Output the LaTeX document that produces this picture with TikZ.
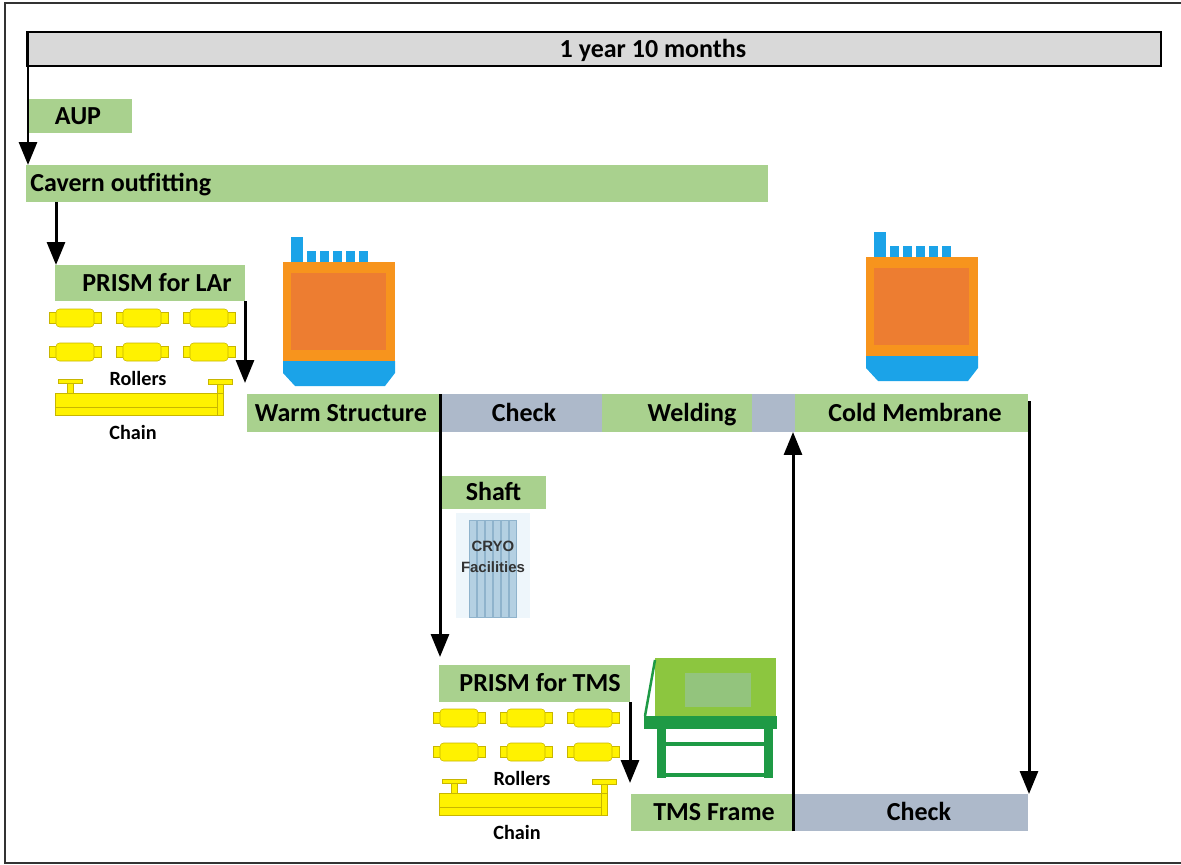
\documentclass[tikz,border=0pt]{standalone}
\usepackage{fontspec}
\setmainfont{Carlito}
\newfontfamily\cryofont{Liberation Sans}
\usetikzlibrary{arrows.meta,calc,fit}

\definecolor{stagegreen}{HTML}{A9D18E}
\definecolor{checkgray}{HTML}{ADB9CA}
\definecolor{bargray}{HTML}{D9D9D9}
\definecolor{rolleryellow}{HTML}{FFF200}
\definecolor{rolleredge}{HTML}{C8B600}
\definecolor{tankorange}{HTML}{F7941D}
\definecolor{tankinner}{HTML}{ED7D31}
\definecolor{tankblue}{HTML}{1BA3E8}
\definecolor{framelight}{HTML}{8CC63F}
\definecolor{frameinner}{HTML}{93C47D}
\definecolor{framedark}{HTML}{1E9A45}
\definecolor{cryoback}{HTML}{EEF6FB}
\definecolor{cryostripe}{HTML}{B4D0E2}
\definecolor{cryoedge}{HTML}{8FB3CC}

\newcommand{\labelfont}{\bfseries\fontsize{14.8}{17}\selectfont}

% one roller, centred at (#1,#2)
\newcommand{\roller}[2]{%
  \draw[rollerline, fill=rolleryellow] (#1-26,#2-5.5) rectangle (#1+26,#2+5.5);
  \draw[rollerline, fill=rolleryellow, rounded corners=2] (#1-19,#2-9) rectangle (#1+19,#2+9);
}

% cryostat tank, top left corner of the orange body at (#1,#2)
\newcommand{\tank}[2]{%
  \begin{scope}[shift={(#1,#2)}]
    \fill[tankblue] (8,-25) rectangle (20,0);
    \foreach \k in {0,...,4}
      \fill[tankblue] (24+13*\k,-11) rectangle (33+13*\k,0);
    \fill[tankorange] (0,0) rectangle (112,99);
    \fill[tankinner] (8,11) rectangle (103,88);
    \fill[tankblue] (0,99) -- (112,99) -- (112,111) -- (102,124) -- (12,124) -- (0,111) -- cycle;
  \end{scope}
}

\begin{document}
\begin{tikzpicture}[x=0.02cm, y=-0.02cm,
    stage/.style={fill=stagegreen, inner sep=0pt, outer sep=0pt},
    checkbox/.style={stage, fill=checkgray},
    stagetext/.style={font=\labelfont, inner sep=0pt, text height=13pt, text depth=3.8pt},
    flow/.style={line width=0.06cm, -{Triangle[width=0.36cm,length=0.46cm]}},
    rollerline/.style={draw=rolleredge, line width=0.3pt},
    smalltext/.style={font=\bfseries\fontsize{11.5}{13}\selectfont, inner sep=0pt},
    cryotext/.style={font=\cryofont\bfseries\fontsize{8.5}{10}\selectfont, text=black!80, inner sep=0pt}]
  \useasboundingbox (0,0) rectangle (1181,865);

  %%%%% FRAME AND TIME BAR %%%%%
  \draw[line width=0.04cm, black!80] (5,3) rectangle (1183,863);
  \node[draw, line width=0.05cm, fill=bargray, inner sep=0pt, outer sep=0pt,
        fit={(27,32) (1161,66)}, label={[stagetext, xshift=1.18cm]center:1 year 10 months}] (yearbar) {};

  %%%%% STAGES %%%%%
  \node[stage, fit={(29,99) (132,133)}, label={[stagetext, xshift=-0.05cm]center:AUP}] (aup) {};
  \node[stage, fit={(26,165) (768,202)},
        label={[stagetext, anchor=west, xshift=0.08cm]west:Cavern outfitting}] (cavern) {};
  \node[stage, fit={(55,265) (245,301)}, label={[stagetext, xshift=0.14cm]center:PRISM for LAr}] (prismlar) {};

  \node[stage, fit={(247,394) (440,432)}, label={[stagetext, xshift=-0.05cm]center:Warm Structure}] (warm) {};
  \node[checkbox, fit={(440,394) (602,432)}, label={[stagetext, xshift=0.06cm]center:Check}] (checkone) {};
  \node[stage, fit={(602,394) (752,432)}, label={[stagetext, xshift=0.3cm]center:Welding}] (welding) {};
  \node[checkbox, fit={(752,394) (795,432)}] (gap) {};
  \node[stage, fit={(795,394) (1028,432)}, label={[stagetext, xshift=0.07cm]center:Cold Membrane}] (coldmem) {};

  \node[stage, fit={(441,476) (546,509)}, label={[stagetext]center:Shaft}] (shaft) {};

  \node[stage, fit={(439,665) (630,702)}, label={[stagetext, xshift=0.11cm]center:PRISM for TMS}] (prismtms) {};
  \node[stage, fit={(631,794) (793,831)}, label={[stagetext, xshift=0.04cm]center:TMS Frame}] (tmsframe) {};
  \node[checkbox, fit={(793,794) (1028,831)}, label={[stagetext, xshift=0.17cm]center:Check}] (checktwo) {};

  %%%%% ROLLERS AND CHAIN %%%%%
  \foreach \dx/\dy/\tag in {0/0/lar, 384/400/tms} {
    \begin{scope}[shift={(\dx,\dy)}]
      \foreach \cx in {75,142,209}
        \foreach \cy in {318,352}
          \roller{\cx}{\cy}
      \draw[rollerline, fill=rolleryellow] (55,393) rectangle (223,415);
      \draw[rollerline] (55,407) -- (217,407);
      \draw[rollerline, fill=rolleryellow] (217,383) rectangle (223,393);
      \draw[rollerline] (217,393) -- (217,415);
      \draw[rollerline, fill=rolleryellow] (67,383) rectangle (73,393);
      \draw[rollerline, fill=rolleryellow] (58,379) rectangle (82,383);
      \draw[rollerline, fill=rolleryellow] (208,379) rectangle (232,384);
      \node[smalltext] (rollers\tag) at (138,378) {Rollers};
      \node[smalltext] (chain\tag) at (133,432) {Chain};
    \end{scope}
  }

  %%%%% TANKS %%%%%
  \tank{283}{262}
  \tank{866}{257}

  %%%%% CRYO FACILITIES %%%%%
  \fill[cryoback] (456,513) rectangle (530,618);
  \foreach \i in {0,...,5}
    \draw[cryoedge, fill=cryostripe, line width=0.4pt] (469+8*\i,520) rectangle (476+8*\i,617);
  \node[cryotext] (cryo) at (493,546) {CRYO};
  \node[cryotext] (facilities) at (493,567) {Facilities};

  %%%%% TMS FRAME %%%%%
  \fill[framelight] (655,658) rectangle (776,716);
  \fill[frameinner] (685,673) rectangle (751,707);
  \draw[framedark, line width=0.05cm] (655,660) -- (645,716);
  \fill[framedark] (644,716) rectangle (777,729);
  \fill[framedark] (657,729) rectangle (666,778);
  \fill[framedark] (764,729) rectangle (773,778);
  \fill[framedark] (666,742) rectangle (764,746);
  \fill[framedark] (666,773) rectangle (764,777);

  %%%%% ARROWS %%%%%
  \draw[flow] ($(yearbar.north west)+(1,0)$) -- ($(yearbar.north west |- cavern.north)+(1,0)$);
  \draw[flow] ($(prismlar.north west |- cavern.south)+(1,0)$) -- ($(prismlar.north west)+(1,0)$);
  \draw[flow, shorten >=0.22cm] (prismlar.south east) -- (prismlar.south east |- warm.north);
  \draw[flow, shorten >=0.16cm] (warm.north east) -- (warm.north east |- prismtms.north);
  \draw[flow, shorten >=0.22cm] (prismtms.south east) -- (prismtms.south east |- tmsframe.north);
  \draw[flow] (tmsframe.south east) -- (tmsframe.south east |- coldmem.south);
  \draw[flow] ($(coldmem.north east)+(1,7)$) -- ($(coldmem.north east |- checktwo.north)+(1,0)$);
\end{tikzpicture}
\end{document}
